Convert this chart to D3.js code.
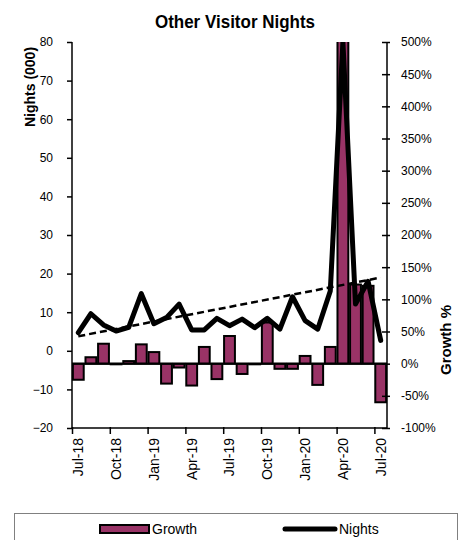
<!DOCTYPE html>
<html>
<head>
<meta charset="utf-8">
<script src="https://cdn.jsdelivr.net/npm/d3@7/dist/d3.min.js"></script>
<style>
  body { margin: 0; background: #fff; }
  svg text { font-family: "Liberation Sans", Arial, sans-serif; fill: #000; }
</style>
</head>
<body>
<svg id="chart" width="463" height="540"></svg>
<script>
// Monthly categories
const months = ["Jul-18","Aug-18","Sep-18","Oct-18","Nov-18","Dec-18",
  "Jan-19","Feb-19","Mar-19","Apr-19","May-19","Jun-19",
  "Jul-19","Aug-19","Sep-19","Oct-19","Nov-19","Dec-19",
  "Jan-20","Feb-20","Mar-20","Apr-20","May-20","Jun-20","Jul-20"];

// Year-on-year growth, percent (right axis)
const growth = [-25, 10, 31, -1, 4, 30, 18, -31, -6, -34, 26, -24,
  43, -16, -1, 64, -8, -8, 12, -33, 26, 700, 123, 121, -60];

// Visitor nights, thousands (left axis)
const nights = [4.7, 9.6, 6.7, 5.1, 6.1, 14.8, 7.0, 8.6, 12.1, 5.4, 5.4, 8.4,
  6.5, 8.2, 6.0, 8.4, 5.6, 14.0, 7.8, 5.6, 15.5, 80, 12.1, 18.0, 2.7];

const leftTicks = [-20, -10, 0, 10, 20, 30, 40, 50, 60, 70, 80];
const rightTicks = [-100, -50, 0, 50, 100, 150, 200, 250, 300, 350, 400, 450, 500];
const monthLabels = ["Jul-18","Oct-18","Jan-19","Apr-19","Jul-19","Oct-19","Jan-20","Apr-20","Jul-20"];

const plot = { left: 72, right: 387, top: 42, bottom: 428 };
const maroon = "#993366";

const svg = d3.select("#chart");

const x = d3.scaleBand().domain(months).range([plot.left, plot.right]).padding(0);
const xIdx = d3.scaleLinear().domain([0, months.length]).range([plot.left, plot.right]);
const yL = d3.scaleLinear().domain([-20, 80]).range([plot.bottom, plot.top]);
const yR = d3.scaleLinear().domain([-100, 500]).range([plot.bottom, plot.top]);

svg.append("defs").append("clipPath").attr("id", "plotClip")
  .append("rect")
  .attr("x", plot.left).attr("y", plot.top)
  .attr("width", plot.right - plot.left).attr("height", plot.bottom - plot.top);

const bw = x.bandwidth();
const barW = bw * 0.86;

// Growth bars
const gBars = svg.append("g").attr("clip-path", "url(#plotClip)");
gBars.selectAll("rect").data(growth).join("rect")
  .attr("x", (d, i) => x(months[i]) + (bw - barW) / 2)
  .attr("width", barW)
  .attr("y", d => yR(Math.max(0, d)))
  .attr("height", d => Math.abs(yR(d) - yR(0)))
  .attr("fill", maroon)
  .attr("stroke", "#000")
  .attr("stroke-width", 2);

// zero line for growth
svg.append("line")
  .attr("x1", plot.left).attr("x2", plot.right)
  .attr("y1", yR(0)).attr("y2", yR(0))
  .attr("stroke", "#000").attr("stroke-width", 2);

// Linear trend of nights (least squares)
const n = nights.length;
const mx = d3.mean(nights, (d, i) => i);
const my = d3.mean(nights);
const sxy = d3.sum(nights, (d, i) => (i - mx) * (d - my));
const sxx = d3.sum(nights, (d, i) => (i - mx) * (i - mx));
const slope = sxy / sxx;
const icpt = my - slope * mx;
const cx = i => x(months[i]) + bw / 2;

const gLines = svg.append("g").attr("clip-path", "url(#plotClip)");
gLines.append("line")
  .attr("x1", cx(0)).attr("y1", yL(icpt))
  .attr("x2", cx(n - 1)).attr("y2", yL(icpt + slope * (n - 1)))
  .attr("stroke", "#000").attr("stroke-width", 2.5)
  .attr("stroke-dasharray", "7,4");

// Nights line
gLines.append("path")
  .datum(nights)
  .attr("d", d3.line().x((d, i) => cx(i)).y(d => yL(d)))
  .attr("fill", "none")
  .attr("stroke", "#000")
  .attr("stroke-width", 5)
  .attr("stroke-linejoin", "round")
  .attr("stroke-linecap", "round");

// Left axis
const axL = svg.append("g").attr("transform", `translate(${plot.left},0)`)
  .call(d3.axisLeft(yL).tickValues(leftTicks).tickSize(5).tickSizeOuter(0).tickPadding(14));
axL.select(".domain").remove();
axL.selectAll("line").attr("stroke", "#000").attr("stroke-width", 1.5);
axL.selectAll("text").attr("font-size", 12);
svg.append("line").attr("x1", plot.left).attr("x2", plot.left)
  .attr("y1", plot.top).attr("y2", plot.bottom)
  .attr("stroke", "#000").attr("stroke-width", 1.5);

// Right axis
const axR = svg.append("g").attr("transform", `translate(${plot.right},0)`)
  .call(d3.axisRight(yR).tickValues(rightTicks).tickFormat(d => d + "%")
    .tickSize(3).tickSizeOuter(0).tickPadding(11));
axR.select(".domain").remove();
axR.selectAll("line").attr("x1", -5).attr("stroke", "#000").attr("stroke-width", 1.5);
axR.selectAll("text").attr("font-size", 12);
svg.append("line").attr("x1", plot.right).attr("x2", plot.right)
  .attr("y1", plot.top).attr("y2", plot.bottom)
  .attr("stroke", "#000").attr("stroke-width", 1.5);

// Bottom axis: tick marks between categories, labels every quarter
const axB = svg.append("g").attr("transform", `translate(0,${plot.bottom})`)
  .call(d3.axisBottom(xIdx).tickValues(d3.range(0, months.length, 3)).tickSize(6).tickFormat(""));
axB.select(".domain").remove();
axB.selectAll("line").attr("y1", -1).attr("stroke", "#000").attr("stroke-width", 1.5);
svg.append("line").attr("x1", plot.left).attr("x2", plot.right)
  .attr("y1", plot.bottom).attr("y2", plot.bottom)
  .attr("stroke", "#000").attr("stroke-width", 1.5);

svg.append("g").selectAll("text").data(monthLabels).join("text")
  .attr("transform", d => `translate(${x(d) + bw / 2},${plot.bottom + 10}) rotate(-90)`)
  .attr("text-anchor", "end")
  .attr("dy", "0.35em")
  .attr("font-size", 14)
  .text(d => d);

// Titles
svg.append("text").attr("transform", "translate(235,28) scale(1,1.12)")
  .attr("text-anchor", "middle").attr("font-size", 17).attr("font-weight", "bold")
  .text("Other Visitor Nights");

svg.append("text")
  .attr("transform", "translate(30,87) rotate(-90)")
  .attr("text-anchor", "middle").attr("dy", "0.35em")
  .attr("font-size", 14).attr("font-weight", "bold")
  .text("Nights (000)");

svg.append("text")
  .attr("transform", "translate(446,340) rotate(-90)")
  .attr("text-anchor", "middle").attr("dy", "0.35em")
  .attr("font-size", 15).attr("font-weight", "bold")
  .text("Growth %");

// Legend
const lg = svg.append("g");
lg.append("rect").attr("x", 14.5).attr("y", 513.5).attr("width", 443).attr("height", 40)
  .attr("fill", "#fff").attr("stroke", "#808080").attr("stroke-width", 1);
lg.append("rect").attr("x", 100).attr("y", 525).attr("width", 49).attr("height", 8)
  .attr("fill", maroon).attr("stroke", "#000").attr("stroke-width", 2);
lg.append("text").attr("x", 152).attr("y", 534).attr("font-size", 14).text("Growth");
lg.append("line").attr("x1", 285).attr("x2", 335).attr("y1", 529).attr("y2", 529)
  .attr("stroke", "#000").attr("stroke-width", 5).attr("stroke-linecap", "round");
lg.append("text").attr("x", 339).attr("y", 534).attr("font-size", 14).text("Nights");
</script>
</body>
</html>
